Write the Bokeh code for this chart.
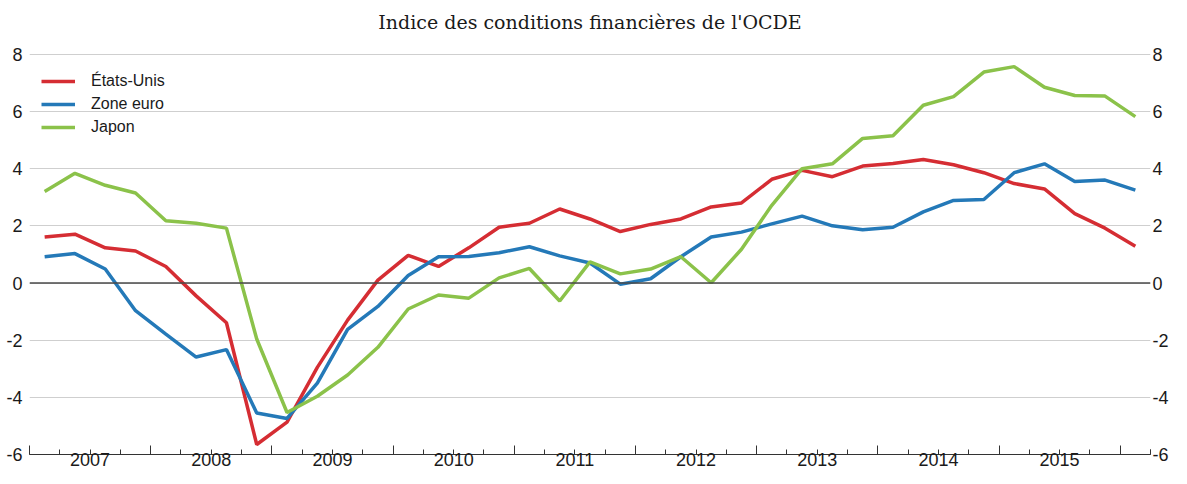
from bokeh.plotting import figure
from bokeh.models import (Range1d, LinearAxis, FixedTicker, Span, Legend, LegendItem,
                          CustomJSTickFormatter)
from bokeh.embed import file_html
from bokeh.resources import INLINE

# ---- data (quarterly, 2007T1 .. 2016T1) ----
title_text = "Indice des conditions financières de l'OCDE"
years = list(range(2007, 2017))
n_quarters = 37
etats_unis = [1.61, 1.71, 1.23, 1.12, 0.58, -0.45, -1.39, -5.65, -4.87, -2.95,
              -1.30, 0.10, 0.97, 0.58, 1.23, 1.95, 2.09, 2.59, 2.24, 1.80,
              2.05, 2.24, 2.66, 2.80, 3.63, 3.94, 3.72, 4.09, 4.18, 4.32,
              4.14, 3.86, 3.48, 3.29, 2.43, 1.92, 1.29]
zone_euro = [0.92, 1.03, 0.49, -0.97, -1.79, -2.59, -2.33, -4.55, -4.74, -3.50,
             -1.62, -0.82, 0.26, 0.92, 0.93, 1.06, 1.27, 0.95, 0.70, -0.04,
             0.15, 0.92, 1.61, 1.78, 2.07, 2.34, 2.00, 1.86, 1.95, 2.49,
             2.89, 2.92, 3.86, 4.17, 3.55, 3.60, 3.25]
japon = [3.20, 3.84, 3.42, 3.15, 2.18, 2.09, 1.92, -1.96, -4.53, -3.96,
         -3.22, -2.25, -0.91, -0.42, -0.53, 0.18, 0.51, -0.63, 0.74, 0.32,
         0.49, 0.92, 0.01, 1.18, 2.72, 4.00, 4.17, 5.06, 5.15, 6.22,
         6.52, 7.38, 7.57, 6.85, 6.56, 6.54, 5.82]
series_names = ["États-Unis", "Zone euro", "Japon"]
y_ticks = [-6, -4, -2, 0, 2, 4, 6, 8]

# quarter mid-points in fractional years
xq = [y + (q + 0.5) / 4 for y in years for q in range(4)][:n_quarters]
year_bounds = years
quarter_bounds = [y + q / 4 for y in years for q in range(4)] + [years[-1] + 0.25]
year_mids = [y + 0.5 for y in years[:-1]]

colors = ["#d52d33", "#2479b8", "#8bc24a"]

p = figure(width=1171, height=468, output_backend="svg", toolbar_location=None,
           x_range=Range1d(2007, 2016.25), y_range=Range1d(-6, 8.45),
           x_axis_location=None, y_axis_location=None,
           min_border_left=29, min_border_right=0, min_border_top=0,
           min_border_bottom=0)
p.outline_line_color = None
p.background_fill_color = "white"
p.border_fill_color = "white"

p.title.text = title_text
p.title.align = "center"
p.title.offset = 6
p.title.text_font = "DejaVu Serif"
p.title.text_font_size = "19px"
p.title.text_font_style = "normal"
p.title.text_color = "#1a1a1a"
p.title.standoff = 17

# y axes (left and right)
for side, so in [("left", 7), ("right", 2)]:
    ax = LinearAxis(ticker=FixedTicker(ticks=y_ticks, minor_ticks=[]))
    ax.major_label_overrides = {t: str(t) for t in y_ticks}
    ax.axis_line_color = None
    ax.major_tick_line_color = None
    ax.minor_tick_line_color = None
    ax.major_tick_in = 0
    ax.major_tick_out = 0
    ax.axis_label_standoff = 0
    ax.major_label_text_font = "Liberation Sans"
    ax.major_label_text_font_size = "18px"
    ax.major_label_text_color = "#1a1a1a"
    ax.major_label_standoff = so
    p.add_layout(ax, side)

# x axis: ticks (years long, quarters short), no labels
ax_t = LinearAxis(ticker=FixedTicker(ticks=year_bounds, minor_ticks=quarter_bounds))
ax_t.formatter = CustomJSTickFormatter(code="return ''")
ax_t.axis_line_color = "#333333"
ax_t.axis_line_width = 1.2
ax_t.major_tick_in = 9
ax_t.major_tick_out = 0
ax_t.minor_tick_in = 5
ax_t.minor_tick_out = 0
ax_t.major_tick_line_color = "#333333"
ax_t.minor_tick_line_color = "#333333"
ax_t.major_label_text_font_size = "1px"
ax_t.major_label_standoff = 0
ax_t.axis_label_standoff = 0
p.add_layout(ax_t, "below")

# x axis: year labels centred in each year
ax_l = LinearAxis(ticker=FixedTicker(ticks=year_mids, minor_ticks=[]))
ax_l.major_label_overrides = {m: str(int(m - 0.5)) for m in year_mids}
ax_l.axis_line_color = None
ax_l.major_tick_line_color = None
ax_l.minor_tick_line_color = None
ax_l.major_tick_in = 0
ax_l.major_tick_out = 0
ax_l.axis_label_standoff = 0
ax_l.major_label_text_font = "Liberation Sans"
ax_l.major_label_text_font_size = "18px"
ax_l.major_label_text_color = "#1a1a1a"
ax_l.major_label_standoff = -2
p.add_layout(ax_l, "below")

# grid
p.ygrid.ticker = FixedTicker(ticks=y_ticks)
p.ygrid.grid_line_color = "#cfcfcf"
p.ygrid.grid_line_width = 1
p.xgrid.grid_line_color = None

p.add_layout(Span(location=0, dimension="width", line_color="#4a4a4a", line_width=1.6))

renderers = []
for vals, c in zip([etats_unis, zone_euro, japon], colors):
    r = p.line(xq, vals, line_color=c, line_width=3.5)
    renderers.append(r)

legend = Legend(items=[LegendItem(label=n, renderers=[r]) for n, r in zip(series_names, renderers)],
                location=(12, 317))
legend.background_fill_alpha = 0
legend.border_line_color = None
legend.padding = 0
legend.margin = 0
legend.glyph_width = 34
legend.glyph_height = 20
legend.label_height = 20
legend.spacing = 3
legend.label_standoff = 16
legend.label_text_font = "Liberation Sans"
legend.label_text_font_size = "16px"
legend.label_text_color = "#1a1a1a"
p.add_layout(legend)

open("out.html", "w").write(file_html(p, INLINE))
